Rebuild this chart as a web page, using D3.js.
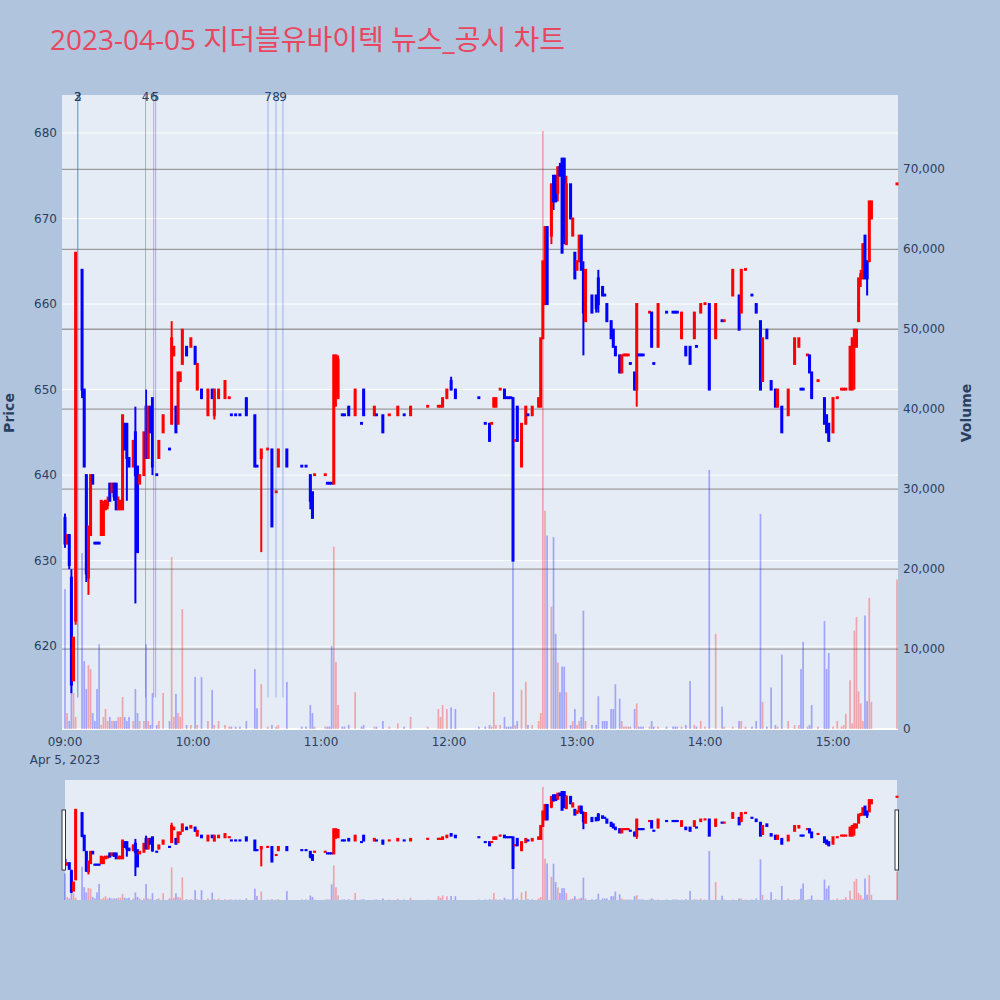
<!DOCTYPE html>
<html><head><meta charset="utf-8">
<script src="https://cdn.jsdelivr.net/npm/d3@7"></script>
<style>body{margin:0;background:#b0c4de}svg{display:block}</style>
</head><body>
<svg id="c" width="1000" height="1000"></svg>
<script>
const titleText = "2023-04-05 지더블유바이텍 뉴스_공시 차트";
const times = [
"09:00","09:01","09:02","09:03","09:04","09:05","09:08","09:09","09:10","09:11",
"09:12","09:13","09:14","09:15","09:16","09:17","09:18","09:19","09:20","09:21",
"09:22","09:23","09:24","09:25","09:26","09:27","09:28","09:29","09:30","09:32",
"09:33","09:34","09:35","09:37","09:38","09:39","09:40","09:41","09:43","09:44",
"09:46","09:49","09:50","09:51","09:52","09:53","09:54","09:55","09:57","09:59",
"10:01","10:02","10:04","10:07","10:09","10:10","10:12","10:15","10:17","10:18",
"10:20","10:22","10:25","10:29","10:30","10:32","10:35","10:37","10:39","10:40",
"10:44","10:51","10:53","10:55","10:56","10:57","11:02","11:03","11:04","11:05",
"11:06","11:07","11:08","11:10","11:11","11:13","11:16","11:19","11:20","11:25",
"11:26","11:29","11:32","11:36","11:39","11:42","11:50","11:55","11:56","11:57",
"11:59","12:01","12:03","12:14","12:17","12:19","12:20","12:21","12:22","12:24",
"12:26","12:27","12:28","12:29","12:30","12:31","12:32","12:34","12:36","12:37",
"12:39","12:42","12:43","12:44","12:45","12:46","12:48","12:49","12:50","12:51",
"12:52","12:53","12:54","12:55","12:57","12:58","12:59","13:00","13:01","13:02",
"13:03","13:04","13:07","13:09","13:10","13:12","13:13","13:14","13:16","13:17",
"13:18","13:20","13:21","13:22","13:23","13:24","13:25","13:27","13:28","13:29",
"13:30","13:31","13:34","13:35","13:36","13:38","13:42","13:45","13:46","13:47",
"13:49","13:51","13:53","13:55","13:56","13:58","14:00","14:02","14:05","14:08",
"14:09","14:13","14:16","14:17","14:19","14:22","14:24","14:26","14:27","14:29",
"14:31","14:33","14:34","14:36","14:39","14:42","14:44","14:45","14:46","14:48",
"14:49","14:50","14:53","14:56","14:57","14:58","15:00","15:02","15:04","15:05",
"15:06","15:08","15:09","15:10","15:11","15:12","15:13","15:14","15:15","15:16",
"15:17","15:18","15:30"];
const opens = [
635,632,633,628,616,623,664,650,640,628,
633,640,632.1,632.1,632.1,633,633,636,636.5,639,
638,639,639,636,636,636,646,646,642,641,
645,641,639,640,648,642,648,649,640.1,642,
645,643.1,646,654,648,646,651,653,655,655,
655,650,650,647,650,647,649,649,649,647.1,
647.1,647.1,649,647,641.1,642,643,643,638,641,
643,641.1,641.1,640,638,640,640,639.1,639.1,639.1,
639,650,649,647.1,647.1,648,647,646.1,650,647,
647.1,647,647,647,647.1,647,648,648,648,648,
649,651,650,649.1,646.1,646,646,648,648,650,
650,649.1,649.1,649.1,649,644,648,641,646,647.1,
647,648,648,656,660,669,668,675,675,673,
676,677,677,667,674,668,666,664,665,668,
664,658,661,661,663,662,661.1,660,658,657,
655,654,652,654,654,654,653.1,652,650,654.1,
654.1,654.1,659,659,653.1,655,659.1,659.1,659.1,659.1,
656,655,655,656,655.1,659,660,660,656,658.1,
658,661,661,659,664,661.1,660,658,651,657,
651,650,648,648,647,653,655,650.1,650.1,654,
654,652,651,649,647,646,645,649,650,650,
650,650,650,655,655,658,663,663,668,665,
665,670,674];
const highs = [
635.5,633,633,629,621,666,664,650,640,634,
640,640,632.1,632.1,632.1,637,637,637,637.5,639,
639,639,639,637.5,637,647,646,646,642,644,
648,641,640,645,650,648,648,649,640.1,644,
647,643.1,658,655,648,652,652,657,655,656,
655,653,650,650,650,650,650,651,649.1,647.1,
647.1,647.1,649,647,641.1,643,643.1,643,638.1,643,
643,641.1,641.1,640,638,640.1,640.1,639.1,639.1,639.1,
654,654,654,647.1,647.1,648,650,646.1,650,648,
647.1,647,647.1,648,647.1,648,648.1,648.1,648.1,649,
650,651.5,650,649.1,646.1,646,646.1,649,649,650.1,
650,649.1,649.1,649.1,649,644.1,648,646,648,647.1,
648,649,656,665,669,669,674,675,675,676,
676.5,677,677,675,674,670,666,665,668,668,
665,664,661,661,664,662,661.1,660,658,657,
655,654,654,654.1,654.1,654.1,653.1,652,660,654.1,
654.1,654.1,659.1,659,653.1,660,659.1,659.1,659.1,659.1,
659,655,655,659,655.1,660,660.1,660,660,658.1,
658.1,664,661,664,664.1,661.1,660,658,656,657,
651,650,650,648,650,656,656,650.1,650.1,654.1,
654,652,651.1,649,647,646,649,649.1,650.1,650.1,
650.1,655,656,657,657,663,664,667,668,665,
672,672,674.1];
const lows = [
631.5,632,629,614.5,616,622.5,649,641,627.5,626,
633,639,632,632,632,633,633,636,636,637,
638,637,636,636,636,636,643,637,641,641,
625,631,639,640,642,642,645,640,640,642,
645,643,646,654,645,646,651,653,654,655,
653,650,649,647,649,646.5,649,649,649,647,
647,647,647,641,641,631,643,634,638,641,
641,641,641,636,635,640,640,639,639,639,
639,648,649,647,647,647,647,646,647,647,
647,645,647,647,647,647,648,648,648,648,
649,650,649,649,646,644,646,648,648,650,
649,649,649,649,630,644,644,641,646,647,
647,648,648,656,660,660,667,671,672,672,
675,666,667,667,670,668,663,664,665,664,
654,658,659,659,659,661,661,658,656,655,
654,652,652,654,654,654,653,650,648,654,
654,654,659,655,653,655,659,659,659,659,
656,654,653,656,655,659,660,650,656,658,
658,661,657,659,664,661,659,650,651,656,
650,648,648,645,647,653,655,650,650,654,
652,649,651,646,645,644,645,649,650,650,
650,650,650,650,655,658,662,663,663,661,
665,670,674];
const closes = [
632,633,629.5,615.5,621,666,650,641,628.5,634,
640,639,632,632,632,637,636.5,637,637,637,
639,637.5,636,637,637,647,643,642,641,644,
640,631,640,645,642,648,645,641,640,644,
647,643,656,655,645,652,652,657,654,656,
653,653,649,650,649,650,650,651,649.1,647,
647,647,647,641,641,643,643.1,634,638.1,643,
641,641,641,637,635,640.1,640.1,639,639,639,
654,654,653.5,647,647,647,650,646,647,648,
647,645,647.1,648,647,648,648.1,648.1,648.1,649,
650,650,649,649,646,644,646.1,649,649,650.1,
649,649,649,649,630,644.1,644,646,648,647,
648,649,656,665,669,660,674,672,672,676,
675,666,668,674,670,670,663,665,668,664,
659,664,659,659.5,660,661,661,658,656,655,
654,652,654,654.1,654.1,654.1,653,650,660,654,
654,654,659.1,655,653,660,659,659,659,659,
659,654,653,659,655,660,660.1,650,660,658,
658.1,664,657,664,664.1,661,659,650,656,656,
650,648,650,645,650,656,656,650,650,654.1,
652,649,651.1,646,645,644,649,649.1,650.1,650.1,
650.1,655,656,657,657,663,663.5,667,663,663,
672,672,674.1];
const volumesK = [
17.5,2,1,5,4.5,1.5,22,8.5,5,8,
7.5,2,1,5,10.6,0.5,1.5,2.5,1,1.5,
1,1,1,1.5,1.5,4,1.5,1,1.5,1,
5,2,1,1,10.6,1,0.5,4.5,0.5,1,
4.5,1,21.5,1.5,4.4,2,1.5,15,0.5,0.5,
6.5,0.5,6.5,1,4.9,0.5,1,0.5,0.3,0.3,
0.3,0.3,1,7.5,2.6,5.6,0.3,0.5,0.3,0.5,
5.9,0.3,0.3,3,2,0.3,0.3,0.3,0.3,10.4,
22.8,8.4,3,0.3,0.3,0.5,4.6,0.3,0.5,0.3,
0.3,1,0.3,0.7,0.3,1.5,0.3,2.5,1.5,3,
2.5,2.7,2.5,0.3,0.3,0.5,0.3,4.6,0.5,0.5,
1.5,0.3,0.3,0.3,21,0.5,1,4.9,5.9,0.5,
0.5,1,2,74.8,27.3,24.2,15.3,24,11.9,8.3,
4.6,7.8,7.8,4.6,0.5,1,2.5,0.5,1,1.5,
14.8,1,0.5,0.5,4.1,1,1,1,2.5,2.5,
5.6,3.8,1,0.3,0.3,0.3,0.3,2.5,3.2,0.3,
0.3,0.3,0.3,1,0.3,0.3,0.3,0.3,0.3,0.3,
0.3,0.5,6,0.5,0.3,1,0.3,32.4,11.9,2.8,
0.3,0.3,1,1,0.3,0.3,1,26.9,3.4,0.3,
5.2,0.5,0.3,9.3,1,0.5,0.5,7.5,10.9,0.3,
0.5,3,0.3,13.5,7.5,9.5,0.3,1,0.3,0.5,
1.9,6.1,0.7,12.3,14,4.7,3.2,1,14.2,3.5,
16.4,3.4,18.7];
const newsTimes = ["09:06:00","09:06:00","09:37:45","09:41:35","09:42:30","10:35:10","10:38:55","10:42:10"];
const newsLabels = ["3","2","4","6","5","7","8","9"];
const priceTicks = [620,630,640,650,660,670,680];
const volumeTicks = [0,10000,20000,30000,40000,50000,60000,70000];
const timeTicks = ["09:00","10:00","11:00","12:00","13:00","14:00","15:00"];
const dateLabel = "Apr 5, 2023";

const parse = s => { const p = s.split(":").map(Number); return new Date(2023,3,5,p[0],p[1],p[2]||0); };
const data = times.map((t,i)=>({t:parse(t),o:opens[i],h:highs[i],l:lows[i],c:closes[i],v:volumesK[i]*1000}));
const UP="#ff0000", DN="#0000ff";
const col = d => d.c >= d.o ? UP : DN;

const svg = d3.select("#c");
const TFONT = "'Open Sans', 'Noto Sans CJK KR', sans-serif";
const FONT = "'DejaVu Sans', Verdana, sans-serif";
const TXT = "#2a3f5f";
svg.append("rect").attr("width",1000).attr("height",1000).attr("fill","#b0c4de");

const L=62, R=898, T=95, B=730;
const x = d3.scaleTime().domain([parse("08:58:36"), parse("15:30:28")]).range([L,R]);
const y = d3.scaleLinear().domain([610.2,684.44]).range([B,T]);
const yv = d3.scaleLinear().domain([0,79300]).range([729,T]);

svg.append("text").attr("x",50).attr("y",50).attr("font-family",TFONT).attr("font-size",28)
  .attr("fill","#e8475f").text(titleText);

svg.append("rect").attr("x",L).attr("y",T).attr("width",R-L).attr("height",B-T).attr("fill","#e5ecf6");
svg.append("g").selectAll("line").data(priceTicks).join("line")
  .attr("x1",L).attr("x2",R).attr("y1",d=>y(d)).attr("y2",d=>y(d)).attr("stroke","#fff").attr("stroke-width",1);
svg.append("g").selectAll("line").data(volumeTicks.slice(1)).join("line")
  .attr("x1",L).attr("x2",R).attr("y1",d=>yv(d)).attr("y2",d=>yv(d)).attr("stroke","#9c9c9c").attr("stroke-width",1.3);
svg.append("line").attr("x1",L).attr("x2",R).attr("y1",yv(0)).attr("y2",yv(0)).attr("stroke","#fff").attr("stroke-width",2);

function drawSeries(g, xs, ys, yvs, barW){
  g.append("g").selectAll("rect").data(data).join("rect")
    .attr("x",d=>xs(d.t)-barW/2).attr("width",barW)
    .attr("y",d=>yvs(d.v)).attr("height",d=>yvs(0)-yvs(d.v))
    .attr("fill",col).attr("fill-opacity",0.3);
  const cg = g.append("g");
  cg.selectAll("line").data(data).join("line")
    .attr("x1",d=>xs(d.t)).attr("x2",d=>xs(d.t)).attr("y1",d=>ys(d.h)).attr("y2",d=>ys(d.l))
    .attr("stroke",col).attr("stroke-width",2);
  cg.selectAll("rect").data(data).join("rect")
    .attr("x",d=>xs(d.t)-0.5).attr("width",1)
    .attr("y",d=>ys(Math.max(d.o,d.c))).attr("height",d=>Math.abs(ys(d.o)-ys(d.c)))
    .attr("fill",col).attr("stroke",col).attr("stroke-width",2);
}
drawSeries(svg.append("g"), x, y, yv, 1.7);

const ng = svg.append("g");
newsTimes.forEach((t,i)=>{
  const xx = x(parse(t));
  ng.append("line").attr("x1",xx).attr("x2",xx).attr("y1",y(684.44)).attr("y2",y(614))
    .attr("stroke","royalblue").attr("stroke-opacity",0.45).attr("stroke-width",1);
  ng.append("text").attr("x",xx).attr("y",101).attr("text-anchor","middle").attr("font-family",FONT)
    .attr("font-size",12).attr("fill",TXT).text(newsLabels[i]);
});

svg.append("g").selectAll("text").data(priceTicks).join("text")
  .attr("x",57).attr("y",d=>y(d)+4).attr("text-anchor","end").attr("font-family",FONT).attr("font-size",12)
  .attr("fill",TXT).text(d=>d);
const fmt = d3.format(",");
svg.append("g").selectAll("text").data(volumeTicks).join("text")
  .attr("x",903).attr("y",d=>yv(d)+4).attr("text-anchor","start").attr("font-family",FONT).attr("font-size",12)
  .attr("fill",TXT).text(d=>fmt(d));
svg.append("g").selectAll("text").data(timeTicks).join("text")
  .attr("x",d=>x(parse(d))).attr("y",746).attr("text-anchor","middle").attr("font-family",FONT).attr("font-size",12)
  .attr("fill",TXT).text(d=>d);
svg.append("text").attr("x",x(parse(timeTicks[0]))).attr("y",764).attr("text-anchor","middle").attr("font-family",FONT)
  .attr("font-size",12).attr("fill",TXT).text(dateLabel);
svg.append("text").attr("transform","translate(14,413) rotate(-90)").attr("text-anchor","middle")
  .attr("font-family",FONT).attr("font-size",14).attr("font-weight","bold").attr("fill",TXT).text("Price");
svg.append("text").attr("transform","translate(971,413) rotate(-90)").attr("text-anchor","middle")
  .attr("font-family",FONT).attr("font-size",14).attr("font-weight","bold").attr("fill",TXT).text("Volume");

const ST=780, SB=900;
svg.append("rect").attr("x",65).attr("y",ST).attr("width",897-65).attr("height",SB-ST).attr("fill","#e5ecf6");
const ys = d3.scaleLinear().domain([610.2,684.44]).range([SB,ST]);
const yvs = d3.scaleLinear().domain([0,79300]).range([SB,ST]);
drawSeries(svg.append("g"), x, ys, yvs, 1.7);
[63.5, 896.5].forEach(hx=>{
  svg.append("rect").attr("x",hx-1.5).attr("y",810).attr("width",3.5).attr("height",60)
    .attr("fill","#fff").attr("stroke","#333").attr("stroke-width",1);
});
</script>
</body></html>
